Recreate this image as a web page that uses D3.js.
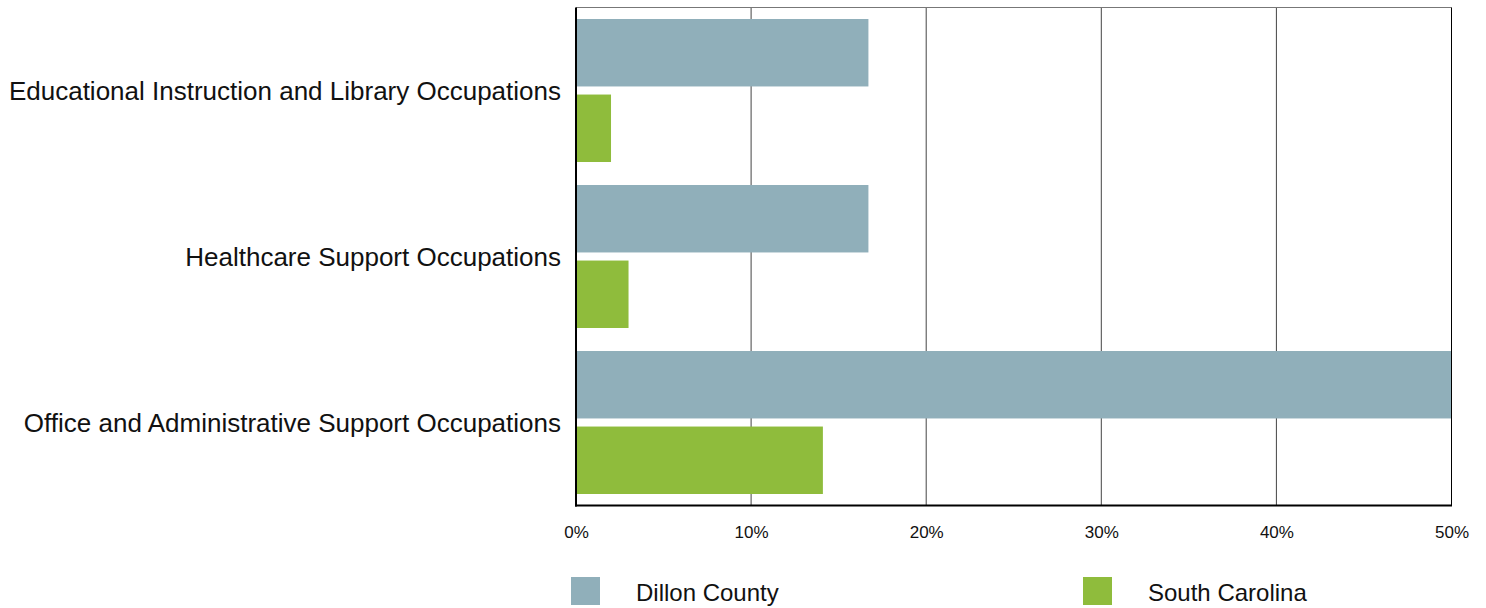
<!DOCTYPE html>
<html><head><meta charset="utf-8">
<script src="https://cdn.jsdelivr.net/npm/d3@7"></script>
<style>body{margin:0;background:#fff;}svg{display:block;font-family:"Liberation Sans",Arial,sans-serif;}</style>
</head><body>
<svg id="c" width="1486" height="608"></svg>
<script>
const categories = ["Educational Instruction and Library Occupations","Healthcare Support Occupations","Office and Administrative Support Occupations"];
const seriesNames = ["Dillon County","South Carolina"];
const dillon = [16.7, 16.7, 50.0];
const southCarolina = [2.0, 3.0, 14.1];
const ticks = [0,10,20,30,40,50];
const colors = ["#90afba","#8fbc3c"];

const svg = d3.select("#c");
const m = {l:576, r:1451.5, t:7.5, b:505.5};
const x = d3.scaleLinear().domain([0,50]).range([m.l,m.r]);
const y = d3.scaleBand().domain(categories).range([m.t,m.b]).paddingInner(0).paddingOuter(0);
const inner = d3.scaleBand().domain(seriesNames).range([11.5, y.bandwidth()-11.5]).paddingInner(0.107);

// gridlines
svg.append("g").selectAll("line").data(ticks.slice(1,-1)).join("line")
  .attr("x1",d=>x(d)).attr("x2",d=>x(d)).attr("y1",m.t).attr("y2",m.b)
  .attr("stroke","#444").attr("stroke-width",1);

const data = [dillon, southCarolina];
data.forEach((vals,si)=>{
  svg.append("g").selectAll("rect").data(vals).join("rect")
    .attr("x",x(0)).attr("y",(d,i)=>y(categories[i])+inner(seriesNames[si]))
    .attr("width",d=>x(d)-x(0)).attr("height",inner.bandwidth())
    .attr("fill",colors[si]);
});

// frame
svg.append("line").attr("x1",m.l).attr("x2",m.r).attr("y1",m.t).attr("y2",m.t).attr("stroke","#777").attr("stroke-width",1.2);
svg.append("line").attr("x1",m.r).attr("x2",m.r).attr("y1",m.t).attr("y2",m.b).attr("stroke","#000").attr("stroke-width",1);
svg.append("line").attr("x1",m.l).attr("x2",m.l).attr("y1",m.t).attr("y2",m.b+1).attr("stroke","#000").attr("stroke-width",2);
svg.append("line").attr("x1",m.l-1).attr("x2",m.r+0.5).attr("y1",m.b).attr("y2",m.b).attr("stroke","#000").attr("stroke-width",2);

// x axis labels
const xAxis = d3.axisBottom(x).tickValues(ticks).tickFormat(d=>d+"%").tickSize(0).tickPadding(0);
const gx = svg.append("g").attr("transform",`translate(0,${m.b})`).call(xAxis);
gx.select(".domain").remove();
gx.selectAll("text").attr("font-size",17).attr("fill","#111").attr("dy",null).attr("y",32)
  .attr("font-family","Liberation Sans, Arial, sans-serif");

// y labels
const yAxis = d3.axisLeft(y).tickSize(0).tickPadding(15);
const gy = svg.append("g").attr("transform",`translate(${m.l},0)`).call(yAxis);
gy.select(".domain").remove();
gy.selectAll("text").attr("font-size",26).attr("fill","#111").attr("dy","0.35em")
  .attr("font-family","Liberation Sans, Arial, sans-serif");

// legend
const legX = [571, 1083];
const leg = svg.append("g").selectAll("g").data(seriesNames).join("g")
  .attr("transform",(d,i)=>`translate(${legX[i]},577)`);
leg.append("rect").attr("width",29).attr("height",28).attr("fill",(d,i)=>colors[i]);
leg.append("text").attr("x",65).attr("y",24).attr("font-size",24).attr("fill","#111").text(d=>d);
</script>
</body></html>
